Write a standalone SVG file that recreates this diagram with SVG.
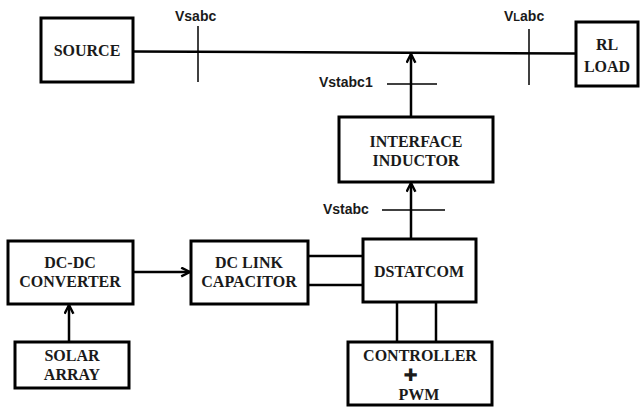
<svg xmlns="http://www.w3.org/2000/svg" width="641" height="408" viewBox="0 0 641 408">
<defs>
<marker id="arr" viewBox="0 0 10 10" refX="9" refY="5" markerWidth="11" markerHeight="11" markerUnits="userSpaceOnUse" orient="auto">
<path d="M1,1 L9,5 L1,9" fill="none" stroke="#000" stroke-width="2.2"/>
</marker>
<style>
.box{fill:#fff;stroke:#000;stroke-width:3}
.t{font-family:"Liberation Serif","Times New Roman",serif;font-weight:bold;font-size:16px;text-anchor:middle;fill:#1a1a1a}
.l{font-family:"Liberation Sans",Arial,sans-serif;font-weight:bold;font-size:14px;fill:#1a1a1a}
.w{fill:none;stroke:#000;stroke-width:2.5}
.tk{fill:none;stroke:#000;stroke-width:1.5}
</style>
</defs>
<rect width="641" height="408" fill="#fff"/>
<g id="connectors">
<line class="w" x1="133" y1="51.5" x2="576" y2="53.5" stroke-width="2"/>
<line class="tk" x1="198" y1="26" x2="198" y2="82"/>
<line class="tk" x1="529" y1="29" x2="529" y2="85"/>
<line class="w" x1="411" y1="117" x2="411" y2="54" marker-end="url(#arr)"/>
<line class="tk" x1="387" y1="84" x2="437" y2="84"/>
<line class="w" x1="411" y1="239" x2="411" y2="183" marker-end="url(#arr)"/>
<line class="tk" x1="382" y1="210" x2="445" y2="210"/>
<line class="w" x1="133" y1="272" x2="190" y2="272" marker-end="url(#arr)"/>
<line class="w" x1="69" y1="342" x2="69" y2="305" marker-end="url(#arr)"/>
<line class="w" x1="305" y1="256" x2="363" y2="256"/>
<line class="w" x1="305" y1="285" x2="363" y2="285"/>
<line class="w" x1="397" y1="302" x2="397" y2="342"/>
<line class="w" x1="436" y1="302" x2="436" y2="342"/>
<text class="l" x="175" y="21">Vsabc</text>
<text class="l" x="504" y="21">V<tspan font-size="11">L</tspan>abc</text>
<text class="l" x="319" y="87">Vstabc1</text>
<text class="l" x="323" y="214">Vstabc</text>
</g>
<g id="source">
<rect class="box" x="41" y="18" width="92" height="64"/>
<text class="t" x="87" y="56">SOURCE</text>
</g>
<g id="rl-load">
<rect class="box" x="576" y="22" width="62" height="64"/>
<text class="t" x="607" y="50">RL</text>
<text class="t" x="607" y="72">LOAD</text>
</g>
<g id="interface-inductor">
<rect class="box" x="339" y="117" width="154" height="65"/>
<text class="t" x="416" y="147">INTERFACE</text>
<text class="t" x="416" y="166">INDUCTOR</text>
</g>
<g id="dstatcom">
<rect class="box" x="363" y="239" width="113" height="63"/>
<text class="t" x="419" y="277">DSTATCOM</text>
</g>
<g id="dc-link-capacitor">
<rect class="box" x="191" y="241" width="117" height="63"/>
<text class="t" x="249" y="268">DC LINK</text>
<text class="t" x="249" y="287">CAPACITOR</text>
</g>
<g id="dc-dc-converter">
<rect class="box" x="8" y="241" width="125" height="63"/>
<text class="t" x="70" y="268">DC-DC</text>
<text class="t" x="70" y="287">CONVERTER</text>
</g>
<g id="solar-array">
<rect class="box" x="15" y="342" width="114" height="46"/>
<text class="t" x="72" y="361">SOLAR</text>
<text class="t" x="72" y="380">ARRAY</text>
</g>
<g id="controller-pwm">
<rect class="box" x="348" y="342" width="144" height="63"/>
<text class="t" x="420" y="361">CONTROLLER</text>
<text x="410.5" y="381" font-family="DejaVu Sans,sans-serif" font-size="17" text-anchor="middle" fill="#1a1a1a">✚</text>
<text class="t" x="419" y="400">PWM</text>
</g>
</svg>
